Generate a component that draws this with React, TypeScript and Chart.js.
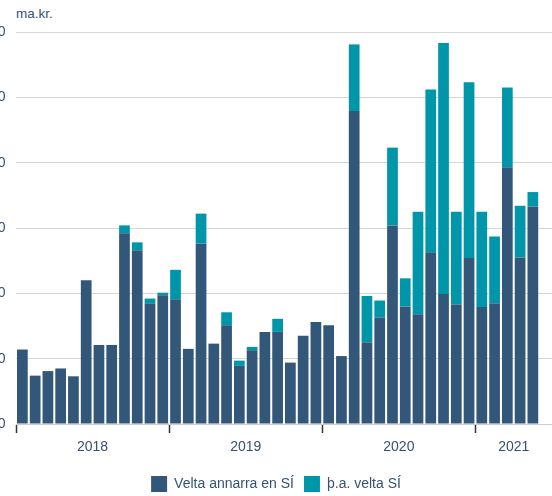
import { useEffect, useRef } from 'react';
import { Chart, registerables } from 'chart.js';

Chart.register(...registerables);

const months = [
  '2018-01', '2018-02', '2018-03', '2018-04', '2018-05', '2018-06', '2018-07', '2018-08', '2018-09', '2018-10', '2018-11', '2018-12',
  '2019-01', '2019-02', '2019-03', '2019-04', '2019-05', '2019-06', '2019-07', '2019-08', '2019-09', '2019-10', '2019-11', '2019-12',
  '2020-01', '2020-02', '2020-03', '2020-04', '2020-05', '2020-06', '2020-07', '2020-08', '2020-09', '2020-10', '2020-11', '2020-12',
  '2021-01', '2021-02', '2021-03', '2021-04', '2021-05', '2021-06',
];

const veltaAnnarra = [
  11.4, 7.4, 8.1, 8.5, 7.3, 22.0, 12.1, 12.1, 29.2, 26.6, 18.4, 19.7,
  19.1, 11.5, 27.6, 12.3, 15.1, 8.9, 11.3, 14.1, 14.1, 9.4, 13.5, 15.6,
  15.1, 10.4, 47.9, 12.5, 16.3, 30.4, 18.0, 16.8, 26.3, 19.9, 18.3, 25.4,
  17.9, 18.5, 39.3, 25.5, 33.3, null,
];

const veltaSI = [
  0, 0, 0, 0, 0, 0, 0, 0, 1.2, 1.2, 0.8, 0.4,
  4.5, 0, 4.6, 0, 2.0, 0.8, 0.5, 0, 2.0, 0, 0, 0,
  0, 0, 10.2, 7.1, 2.6, 11.9, 4.3, 15.7, 24.9, 38.4, 14.2, 26.9,
  14.6, 10.2, 12.2, 7.9, 2.2, null,
];

const yearLabels = ['2018', '2019', '2020', '2021'];
const yearLabelIndex = [5, 17, 29, 38];
const yearBoundaryIndex = [0, 12, 24, 36];

const FONT = "'Liberation Sans', Arial, sans-serif";
const TEXT = '#365273';

export default function App() {
  const ref = useRef<HTMLCanvasElement | null>(null);

  useEffect(() => {
    if (!ref.current) return;
    const chart = new Chart(ref.current, {
      type: 'bar',
      data: {
        labels: months,
        datasets: [
          {
            label: 'Velta annarra en SÍ',
            data: veltaAnnarra,
            backgroundColor: '#335778',
            borderWidth: 0,
            categoryPercentage: 1,
            barPercentage: 0.84,
          },
          {
            label: 'þ.a. velta SÍ',
            data: veltaSI,
            backgroundColor: '#0096aa',
            borderWidth: 0,
            categoryPercentage: 1,
            barPercentage: 0.84,
          },
        ],
      },
      options: {
        responsive: false,
        animation: false,
        layout: { padding: { top: 32, left: 0, right: 0, bottom: 0 } },
        plugins: {
          tooltip: { enabled: false },
          legend: {
            position: 'bottom',
            labels: {
              boxWidth: 16,
              boxHeight: 16,
              padding: 10,
              color: TEXT,
              font: { size: 14, family: FONT },
            },
          },
        },
        scales: {
          x: {
            stacked: true,
            offset: true,
            grid: {
              offset: true,
              drawOnChartArea: false,
              drawTicks: true,
              tickLength: 9,
              tickWidth: 1.5,
              tickColor: (ctx: any) => (yearBoundaryIndex.includes(ctx.index) ? '#333333' : 'rgba(0,0,0,0)'),
            },
            border: { display: true, color: '#cccccc', width: 1 },
            ticks: {
              autoSkip: false,
              maxRotation: 0,
              minRotation: 0,
              padding: 6,
              labelOffset: 6.38,
              color: TEXT,
              font: { size: 14, family: FONT },
              callback: (_v: any, i: number) => {
                const k = yearLabelIndex.indexOf(i);
                return k >= 0 ? yearLabels[k] : '';
              },
            },
            afterFit: (s: any) => {
              s.height = 42;
            },
          },
          y: {
            stacked: true,
            min: 0,
            max: 60,
            ticks: {
              stepSize: 10,
              padding: 10.5,
              color: TEXT,
              font: { size: 14, family: FONT },
            },
            grid: { color: '#d6d6d6', drawTicks: false },
            border: { display: false },
            afterFit: (s: any) => {
              s.width = 56;
            },
          },
          y2: {
            position: 'right',
            display: true,
            grid: { display: false, drawTicks: false },
            border: { display: false },
            ticks: { display: false },
            afterFit: (s: any) => {
              s.width = 40;
            },
          },
        },
      },
    } as any);
    return () => chart.destroy();
  }, []);

  return (
    <div style={{ position: 'fixed', left: 0, top: 0, width: 552, height: 496, overflow: 'hidden', background: '#fff' }}>
      <div
        style={{
          position: 'absolute',
          left: 16,
          top: 6,
          fontFamily: FONT,
          fontSize: 13.5,
          color: TEXT,
          lineHeight: '15px',
        }}
      >
        ma.kr.
      </div>
      <canvas
        ref={ref}
        width={632}
        height={502}
        style={{ position: 'absolute', left: -40, top: 0, width: 632, height: 502 }}
      />
    </div>
  );
}
